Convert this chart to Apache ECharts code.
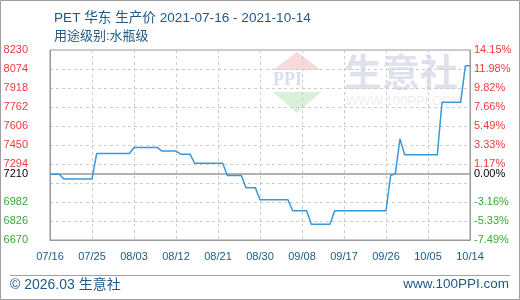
<!DOCTYPE html>
<html>
<head>
<meta charset="utf-8">
<script src="https://cdn.jsdelivr.net/npm/echarts@6/dist/echarts.min.js"></script>
<style>
html,body{margin:0;padding:0;background:#fff;}
#c{width:520px;height:300px;}
</style>
</head>
<body>
<div id="c"></div>
<script>
const titleText = 'PET 华东 生产价 2021-07-16 - 2021-10-14';
const subTitleText = '用途级别:水瓶级';
const footerLeft = '© 2026.03 生意社';
const footerRight = 'www.100PPI.com';

const dates = [
  '07/16','07/17','07/18','07/19','07/20','07/21','07/22','07/23','07/24','07/25','07/26','07/27','07/28','07/29','07/30','07/31',
  '08/01','08/02','08/03','08/04','08/05','08/06','08/07','08/08','08/09','08/10','08/11','08/12','08/13','08/14','08/15','08/16',
  '08/17','08/18','08/19','08/20','08/21','08/22','08/23','08/24','08/25','08/26','08/27','08/28','08/29','08/30','08/31',
  '09/01','09/02','09/03','09/04','09/05','09/06','09/07','09/08','09/09','09/10','09/11','09/12','09/13','09/14','09/15',
  '09/16','09/17','09/18','09/19','09/20','09/21','09/22','09/23','09/24','09/25','09/26','09/27','09/28','09/29','09/30',
  '10/01','10/02','10/03','10/04','10/05','10/06','10/07','10/08','10/09','10/10','10/11','10/12','10/13','10/14'
];

const prices = [
  7210,7210,7210,
  7170,7170,7170,7170,7170,7170,7170,
  7380,7380,7380,7380,7380,7380,7380,7380,
  7430,7430,7430,7430,7430,7430,
  7400,7400,7400,7400,
  7375,7375,7375,
  7300,7300,7300,7300,7300,7300,7300,
  7200,7200,7200,7200,
  7100,7100,7100,
  7000,7000,7000,7000,7000,7000,7000,
  6910,6910,6910,6910,
  6800,6800,6800,6800,6800,
  6910,6910,6910,6910,6910,6910,6910,6910,6910,6910,6910,6910,
  7200,
  7215,
  7500,
  7370,7370,7370,7370,7370,7370,7370,7370,
  7800,7800,7800,7800,7800,
  8100,8100
];

const basePrice = 7210;
const yMin = 6670;
const yMax = 8230;
const gridValues = [6670,6826,6982,7138,7294,7450,7606,7762,7918,8074,8230];
const labelValues = [6670,6826,6982,7210,7294,7450,7606,7762,7918,8074,8230];

const FONT = '"Liberation Sans", Arial, "Noto Sans CJK SC", sans-serif';
const BLUE = '#1d5a88';

function labelColor(v) {
  v = Number(v);
  if (Math.abs(v - basePrice) < 0.5) return '#000000';
  return v > basePrice ? '#f03a3a' : '#33aa33';
}

const chart = echarts.init(document.getElementById('c'), null, {renderer: 'canvas'});
chart.setOption({
  animation: false,
  backgroundColor: '#ffffff',
  title: [
    {text: titleText, left: 49, top: 6, textStyle: {fontSize: 13.6, fontWeight: 'normal', color: BLUE, fontFamily: FONT}},
    {text: subTitleText, left: 49, top: 25, textStyle: {fontSize: 13, fontWeight: 'normal', color: BLUE, fontFamily: FONT}}
  ],
  grid: {left: 50, right: 50, top: 50, bottom: 60, show: true, borderColor: '#999', borderWidth: 1, backgroundColor: 'transparent'},
  graphic: [
    {type: 'rect', z: 100, silent: true, shape: {x: 0.5, y: 0.5, width: 519, height: 299}, style: {fill: 'none', stroke: '#a0a0a0', lineWidth: 1}},
    {type: 'line', z: 100, silent: true, shape: {x1: 10, y1: 275.5, x2: 510, y2: 275.5}, style: {stroke: '#a0a0a0', lineWidth: 1}},
    {type: 'text', z: 100, left: 10, top: 278, style: {text: footerLeft, fill: BLUE, font: '14px ' + FONT}},
    {type: 'text', z: 100, right: 11, top: 278, style: {text: footerRight, fill: BLUE, font: '13.5px ' + FONT}},
    // watermark
    {type: 'polygon', z: -10, silent: true, shape: {points: [[297, 52], [273, 70], [321, 70]]}, style: {fill: '#f7dada'}},
    {type: 'text', z: -10, silent: true, left: 273, top: 71, style: {text: 'PPI', fill: '#d8dfec', font: 'bold 18px "Liberation Serif", serif'}},
    {type: 'polygon', z: -10, silent: true, shape: {points: [[273, 92], [321, 92], [297, 113]]}, style: {fill: '#daf0da'}},
    {type: 'text', z: -10, silent: true, left: 344, top: 53, style: {text: '生意社', fill: '#dfe2ec', font: 'bold 38px "Noto Sans CJK SC", sans-serif'}},
    {type: 'text', z: -10, silent: true, left: 346, top: 95, style: {text: 'WWW.100PPI.COM', fill: '#ececec', font: '13px ' + FONT}}
  ],
  xAxis: {
    type: 'category',
    data: dates,
    boundaryGap: false,
    axisLine: {show: true, lineStyle: {color: '#999', width: 1}},
    axisTick: {show: false},
    axisLabel: {interval: 8, color: BLUE, fontSize: 11, fontFamily: FONT, margin: 11},
    splitLine: {show: true, interval: 8, lineStyle: {color: '#cccccc', type: [3, 3], width: 1}}
  },
  yAxis: [
    {
      type: 'value', min: yMin, max: yMax, position: 'left',
      axisLine: {show: true, lineStyle: {color: '#999', width: 1}},
      axisTick: {show: false, customValues: gridValues},
      axisLabel: {
        customValues: labelValues, fontSize: 11, fontFamily: FONT, margin: 22, align: 'right', color: labelColor,
        formatter: function (v) { return String(Math.round(v)); }
      },
      splitLine: {show: true, lineStyle: {color: '#cccccc', type: [3, 3], width: 1}}
    },
    {
      type: 'value', min: yMin, max: yMax, position: 'right',
      axisLine: {show: true, lineStyle: {color: '#999', width: 1}},
      axisTick: {show: false, customValues: gridValues},
      axisLabel: {
        customValues: labelValues, fontSize: 11, fontFamily: FONT, margin: 4, align: 'left', color: labelColor,
        formatter: function (v) { return ((v - basePrice) / basePrice * 100).toFixed(2) + '%'; }
      },
      splitLine: {show: false}
    }
  ],
  series: [{
    type: 'line',
    data: prices,
    yAxisIndex: 0,
    showSymbol: false,
    symbol: 'none',
    lineStyle: {color: '#3b97d6', width: 1.5},
    z: 5,
    markLine: {
      silent: true, symbol: 'none', animation: false,
      label: {show: false},
      lineStyle: {color: '#999999', type: 'solid', width: 1.5},
      data: [{yAxis: basePrice}]
    }
  }]
});
</script>
</body>
</html>
